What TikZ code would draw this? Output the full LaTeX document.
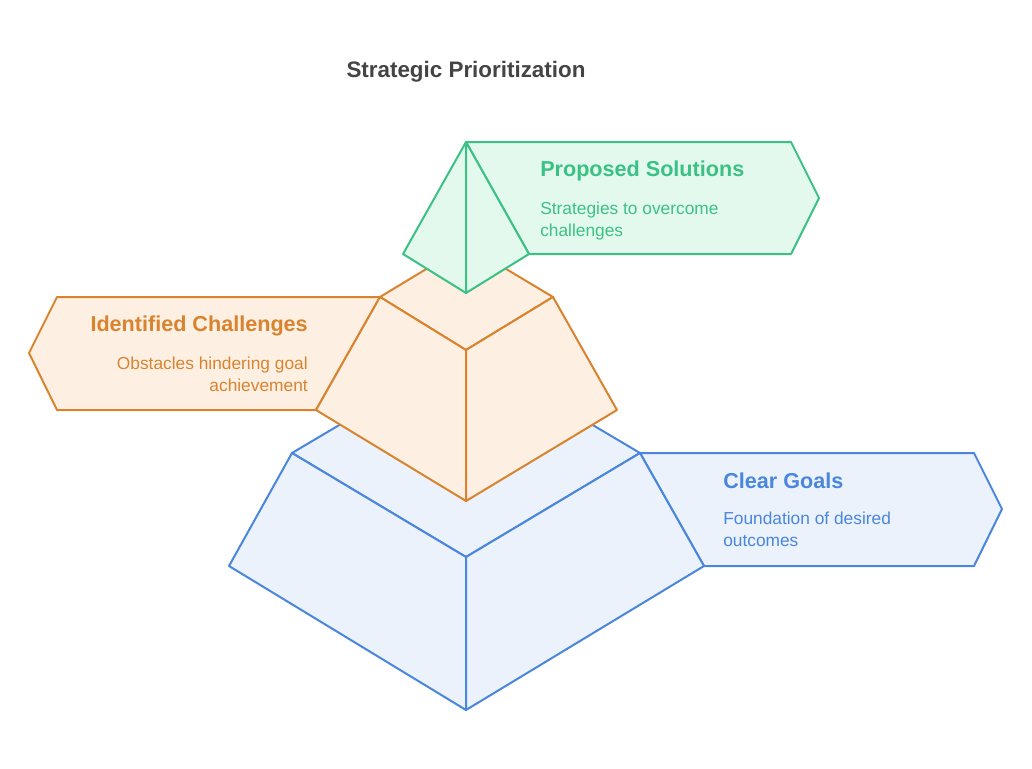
\documentclass[tikz,border=0pt]{standalone}
\usepackage{fontspec}
\setmainfont{Liberation Sans}
\definecolor{bl}{HTML}{4A86DB}\definecolor{blf}{HTML}{EBF2FC}
\definecolor{or}{HTML}{D9832E}\definecolor{orf}{HTML}{FDF0E3}
\definecolor{gr}{HTML}{3CC184}\definecolor{grf}{HTML}{E3F9EE}
\definecolor{tt}{HTML}{444444}
\tikzset{face/.style={line width=1.5pt,line join=round},
head/.style={font=\fontsize{16.2}{19}\selectfont\bfseries,inner sep=0},
body/.style={font=\fontsize{13}{16}\selectfont,inner sep=0,align=left}}
\begin{document}
\begin{tikzpicture}[x=0.75pt,y=-0.75pt]
\useasboundingbox (0,0) rectangle (1032,768);
\node[font=\fontsize{16.8}{20}\selectfont\bfseries,text=tt] (title) at (466,72) {Strategic Prioritization};
% blue
\draw[face,draw=bl,fill=blf] (640,453)--(974,453)--(1002,509)--(974,566)--(704,566)--cycle;
\draw[face,draw=bl,fill=blf] (292,453)--(466,350)--(640,453)--(466,557)--cycle;
\draw[face,draw=bl,fill=blf] (292,453)--(466,557)--(466,710)--(229,566)--cycle;
\draw[face,draw=bl,fill=blf] (640,453)--(466,557)--(466,710)--(704,566)--cycle;
\node[head,text=bl,anchor=west] (h1) at (723,481) {Clear Goals};
\node[body,text=bl,anchor=north west] (b1) at (723,512) {Foundation of desired\\outcomes};
% orange
\draw[face,draw=or,fill=orf] (380,297)--(57,297)--(29,353)--(57,410)--(316,410)--cycle;
\draw[face,draw=or,fill=orf] (380,297)--(466,245)--(553,297)--(466,350)--cycle;
\draw[face,draw=or,fill=orf] (380,297)--(466,350)--(466,501)--(316,410)--cycle;
\draw[face,draw=or,fill=orf] (553,297)--(466,350)--(466,501)--(617,410)--cycle;
\node[head,text=or,anchor=east] (h2) at (308,326) {Identified Challenges};
\node[body,text=or,anchor=north east,align=right] (b2) at (308,357) {Obstacles hindering goal\\achievement};
% green
\draw[face,draw=gr,fill=grf] (466,142)--(791,142)--(819,198)--(791,254)--(529,254)--cycle;
\draw[face,draw=gr,fill=grf] (466,142)--(403,254)--(466,293)--cycle;
\draw[face,draw=gr,fill=grf] (466,142)--(466,293)--(529,254)--cycle;
\node[head,text=gr,anchor=west] (h3) at (540,171) {Proposed Solutions};
\node[body,text=gr,anchor=north west] (b3) at (540,202) {Strategies to overcome\\challenges};
\end{tikzpicture}
\end{document}
